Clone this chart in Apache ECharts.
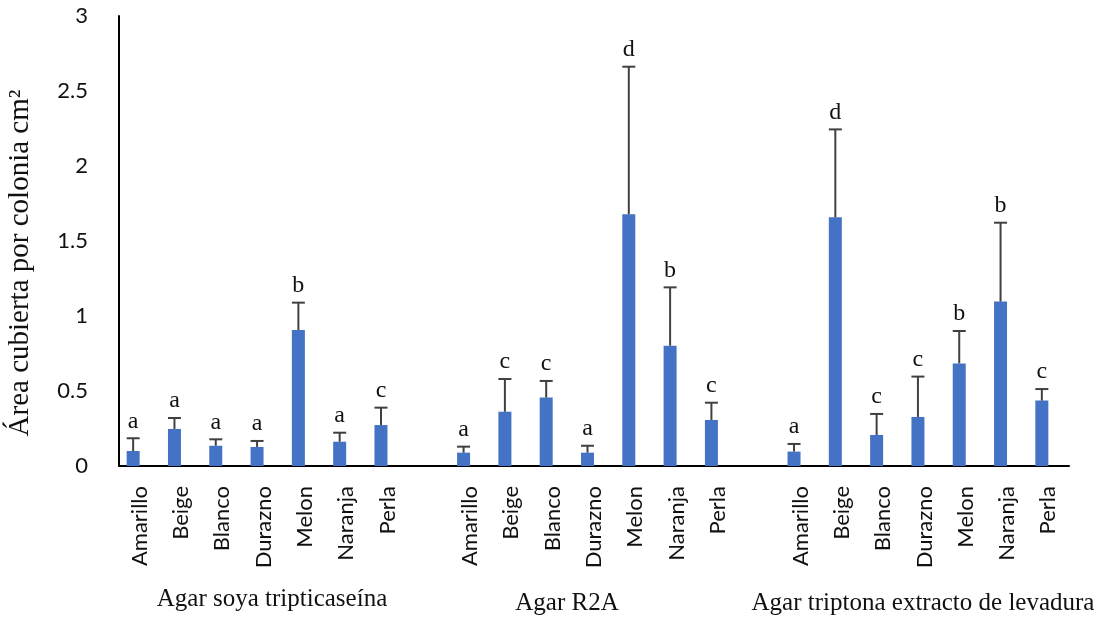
<!DOCTYPE html>
<html>
<head>
<meta charset="utf-8">
<script src="https://cdn.jsdelivr.net/npm/echarts@6/dist/echarts.min.js"></script>
<style>html,body{margin:0;padding:0;background:#fff}#c{width:1100px;height:619px}</style>
</head>
<body>
<div id="c"></div>
<script>
// ---- data ----
const colonies = ['Amarillo', 'Beige', 'Blanco', 'Durazno', 'Melon', 'Naranja', 'Perla'];
const groups = ['Agar soya tripticaseína', 'Agar R2A', 'Agar triptona extracto de levadura'];
const meanTSA = [0.100, 0.247, 0.135, 0.127, 0.907, 0.162, 0.273];
const sdTSA   = [0.085, 0.073, 0.043, 0.040, 0.182, 0.060, 0.116];
const meanR2A = [0.089, 0.362, 0.456, 0.089, 1.678, 0.802, 0.307];
const sdR2A   = [0.040, 0.218, 0.111, 0.046, 0.984, 0.389, 0.115];
const meanTEL = [0.096, 1.658, 0.207, 0.327, 0.684, 1.096, 0.436];
const sdTEL   = [0.051, 0.586, 0.140, 0.269, 0.216, 0.526, 0.077];
const lettersTSA = ['a', 'a', 'a', 'a', 'b', 'a', 'c'];
const lettersR2A = ['a', 'c', 'c', 'a', 'd', 'b', 'c'];
const lettersTEL = ['a', 'd', 'c', 'c', 'b', 'b', 'c'];
const yTicks = [0, 0.5, 1, 1.5, 2, 2.5, 3];
const yTitle = 'Área cubierta por colonia cm²';

// ---- build category axis with one empty slot between groups ----
const means = [meanTSA, meanR2A, meanTEL];
const sds = [sdTSA, sdR2A, sdTEL];
const letters = [lettersTSA, lettersR2A, lettersTEL];
const categories = [], barData = [], errData = [], errLetters = [];
means.forEach((m, g) => {
  if (g > 0) { categories.push(''); barData.push(null); }
  m.forEach((v, i) => {
    const idx = categories.length;
    categories.push(colonies[i]);
    barData.push(v);
    errData.push([idx, v, sds[g][i]]);
    errLetters.push(letters[g][i]);
  });
});

// ---- style ----
const BAR_W = 13;
const BAR_SHIFT = -BAR_W / 2;   // bar sits in left half of a two-bar cluster (second bar empty)
const CAP = 6.5;
const sans = 'Lato';
const serif = 'Liberation Serif';
const groupFont = '25px "' + serif + '"';

const chart = echarts.init(document.getElementById('c'), null, {renderer: 'canvas'});
chart.setOption({
  animation: false,
  backgroundColor: '#ffffff',
  grid: {left: 119, right: 31, top: 16, bottom: 153, containLabel: false, outerBoundsMode: 'none'},
  xAxis: {
    type: 'category',
    data: categories,
    boundaryGap: true,
    axisLine: {lineStyle: {color: '#000', width: 2}},
    axisTick: {show: false},
    axisLabel: {
      interval: 0, rotate: 90, margin: 20, fontFamily: sans, fontSize: 22,
      color: '#111', padding: [0, 0, 6, 0]
    },
    splitLine: {show: false}
  },
  yAxis: {
    type: 'value',
    min: yTicks[0], max: yTicks[yTicks.length - 1], interval: yTicks[1] - yTicks[0],
    axisLine: {show: true, lineStyle: {color: '#000', width: 2}},
    axisTick: {show: false},
    splitLine: {show: false},
    axisLabel: {margin: 31, fontFamily: sans, fontSize: 22, color: '#111'}
  },
  series: [
    {
      type: 'bar', data: barData, barWidth: BAR_W, barGap: '0%',
      itemStyle: {color: '#4472C4'}
    },
    {
      type: 'bar', data: categories.map(() => null), barWidth: BAR_W, barGap: '0%'
    },
    {
      type: 'custom',
      data: errData,
      z: 5,
      renderItem: function (params, api) {
        const i = api.value(0), m = api.value(1), s = api.value(2);
        const base = api.coord([i, m]);
        const top = api.coord([i, m + s]);
        const x = base[0] + BAR_SHIFT;
        const ls = {stroke: '#404040', lineWidth: 2};
        return {
          type: 'group',
          children: [
            {type: 'line', shape: {x1: x, y1: base[1], x2: x, y2: top[1]}, style: ls},
            {type: 'line', shape: {x1: x - CAP, y1: top[1], x2: x + CAP, y2: top[1]}, style: ls},
            {type: 'text', x: x, y: top[1] - 5,
             style: {text: errLetters[params.dataIndex], fill: '#111', font: '24px "' + serif + '"',
                     align: 'center', verticalAlign: 'bottom'}}
          ]
        };
      }
    }
  ],
  graphic: [
    {type: 'text', x: 20, y: 263, rotation: Math.PI / 2,
     style: {text: yTitle, font: '29px "' + serif + '"', fill: '#111', align: 'center', verticalAlign: 'middle'}},
    {type: 'text', x: 272, y: 599,
     style: {text: groups[0], font: groupFont, fill: '#111', align: 'center', verticalAlign: 'middle'}},
    {type: 'text', x: 567, y: 603,
     style: {text: groups[1], font: groupFont, fill: '#111', align: 'center', verticalAlign: 'middle'}},
    {type: 'text', x: 923, y: 603,
     style: {text: groups[2], font: groupFont, fill: '#111', align: 'center', verticalAlign: 'middle'}}
  ]
});
</script>
</body>
</html>
